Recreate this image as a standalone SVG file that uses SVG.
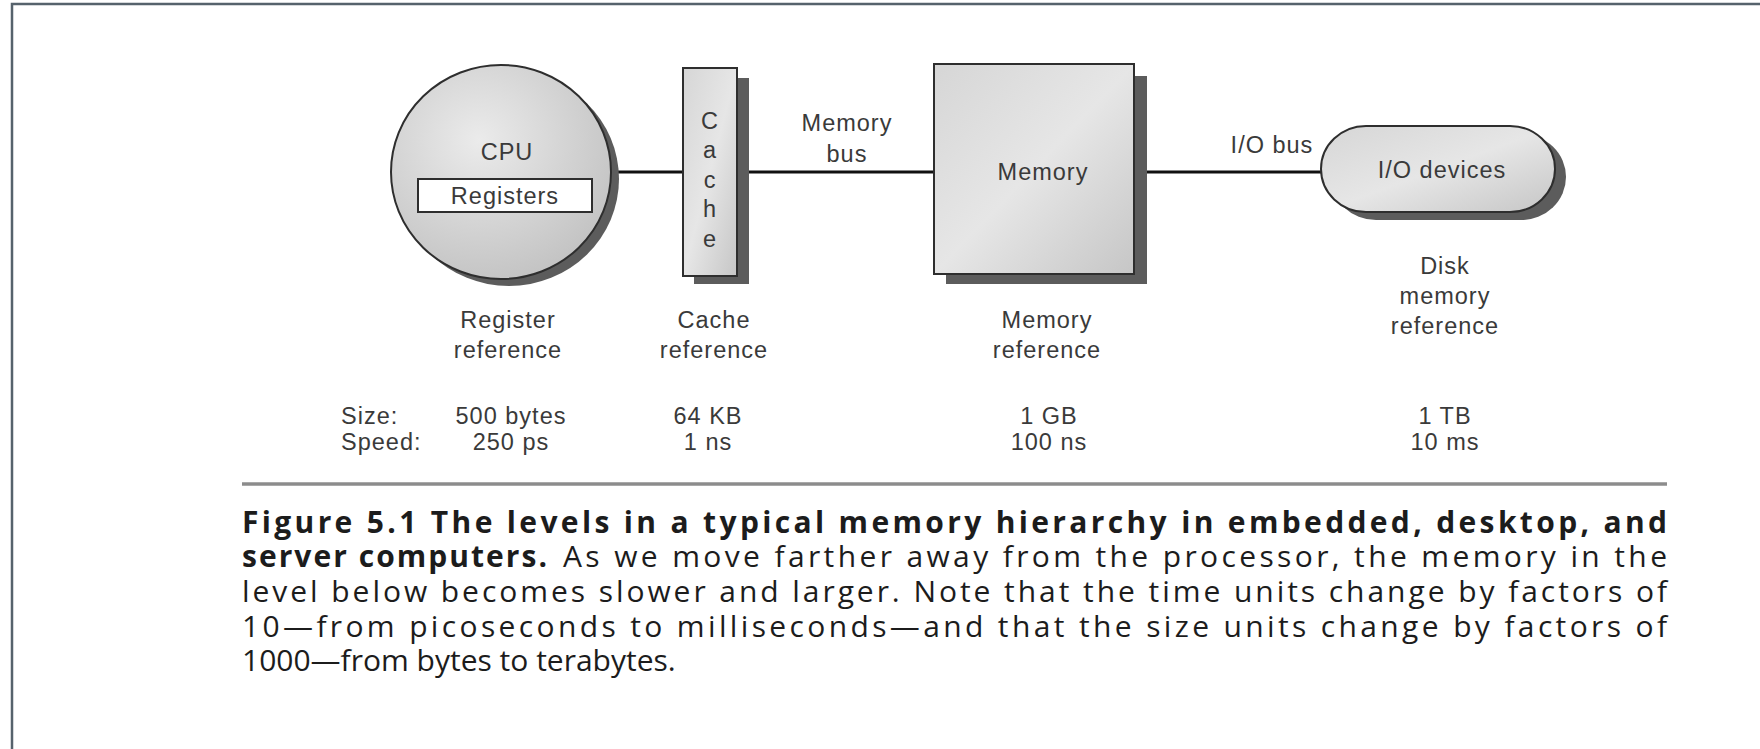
<svg xmlns="http://www.w3.org/2000/svg" width="1760" height="749" viewBox="0 0 1760 749">
<style>
.lbl{font-family:"Liberation Sans",Arial,sans-serif;font-size:23.5px;fill:#3a3a3a;letter-spacing:1px}
.mid{text-anchor:middle}
.cap{font-family:"Open Sans","Noto Sans",sans-serif;font-size:30px;fill:#1c1c1c}
.b{font-weight:700}
.shadow{fill:#5c5c5c}
.edge{stroke:#2e2e2e;stroke-width:2}
.conn{stroke:#111;stroke-width:3;fill:none}
</style>
<defs>
<radialGradient id="gc" cx="0.4" cy="0.35" r="0.7">
<stop offset="0" stop-color="#ebebeb"/>
<stop offset="1" stop-color="#c2c2c2"/>
</radialGradient>
<linearGradient id="gr" x1="0" y1="0" x2="1" y2="1">
<stop offset="0" stop-color="#d6d6d6"/>
<stop offset="0.5" stop-color="#e6e6e6"/>
<stop offset="1" stop-color="#c6c6c6"/>
</linearGradient>
</defs>
<rect width="1760" height="749" fill="#fff"/>
<path d="M12,749 V4 H1760" fill="none" stroke="#56626c" stroke-width="2.5"/>

<g id="connectors">
<line class="conn" x1="615" y1="172" x2="683" y2="172"/>
<line class="conn" x1="737" y1="172" x2="934" y2="172"/>
<line class="conn" x1="1134" y1="172" x2="1323" y2="172"/>
</g>

<g id="cpu">
<ellipse class="shadow" cx="509" cy="179" rx="110" ry="107"/>
<ellipse cx="501" cy="172" rx="110" ry="107" fill="url(#gc)" class="edge"/>
<text class="lbl mid" x="507" y="160">CPU</text>
<rect x="418" y="179" width="174" height="33" fill="#fff" class="edge"/>
<text class="lbl mid" x="505" y="204">Registers</text>
</g>

<g id="cache">
<rect class="shadow" x="694" y="78" width="55" height="206"/>
<rect x="683" y="68" width="54" height="208" fill="url(#gr)" class="edge"/>
<text class="lbl mid" x="710" y="129">C</text>
<text class="lbl mid" x="710" y="158">a</text>
<text class="lbl mid" x="710" y="188">c</text>
<text class="lbl mid" x="710" y="217">h</text>
<text class="lbl mid" x="710" y="247">e</text>
</g>

<g id="memory-bus-label">
<text class="lbl mid" x="847" y="131">Memory</text>
<text class="lbl mid" x="847" y="162">bus</text>
</g>

<g id="memory">
<rect class="shadow" x="946" y="76" width="201" height="208"/>
<rect x="934" y="64" width="200" height="210" fill="url(#gr)" class="edge"/>
<text class="lbl mid" x="1043" y="180">Memory</text>
</g>

<g id="io-bus-label">
<text class="lbl mid" x="1272" y="153">I/O bus</text>
</g>

<g id="io-devices">
<rect class="shadow" x="1331" y="134" width="235" height="86" rx="45" ry="43"/>
<rect x="1321" y="126" width="234" height="86" rx="45" ry="43" fill="url(#gr)" class="edge"/>
<text class="lbl mid" x="1442" y="178">I/O devices</text>
</g>

<g id="levels">
<text class="lbl mid" x="508" y="328">Register</text>
<text class="lbl mid" x="508" y="358">reference</text>
<text class="lbl mid" x="714" y="328">Cache</text>
<text class="lbl mid" x="714" y="358">reference</text>
<text class="lbl mid" x="1047" y="328">Memory</text>
<text class="lbl mid" x="1047" y="358">reference</text>
<text class="lbl mid" x="1445" y="274">Disk</text>
<text class="lbl mid" x="1445" y="304">memory</text>
<text class="lbl mid" x="1445" y="334">reference</text>
</g>

<g id="specs">
<text class="lbl" x="341" y="424">Size:</text>
<text class="lbl" x="341" y="450">Speed:</text>
<text class="lbl mid" x="511" y="424">500 bytes</text>
<text class="lbl mid" x="511" y="450">250 ps</text>
<text class="lbl mid" x="708" y="424">64 KB</text>
<text class="lbl mid" x="708" y="450">1 ns</text>
<text class="lbl mid" x="1049" y="424">1 GB</text>
<text class="lbl mid" x="1049" y="450">100 ns</text>
<text class="lbl mid" x="1445" y="424">1 TB</text>
<text class="lbl mid" x="1445" y="450">10 ms</text>
</g>

<line x1="242" y1="484" x2="1667" y2="484" stroke="#8c8c8c" stroke-width="3.5"/>

<g id="caption">
<text class="cap b" x="242" y="533" textLength="1425" lengthAdjust="spacing">Figure 5.1 The levels in a typical memory hierarchy in embedded, desktop, and</text>
<text class="cap b" x="242" y="567" textLength="305" lengthAdjust="spacing">server computers.</text>
<text class="cap" x="563" y="567" textLength="1104" lengthAdjust="spacing">As we move farther away from the processor, the memory in the</text>
<text class="cap" x="242" y="602" textLength="1425" lengthAdjust="spacing">level below becomes slower and larger. Note that the time units change by factors of</text>
<text class="cap" x="242" y="637" textLength="1425" lengthAdjust="spacing">10—from picoseconds to milliseconds—and that the size units change by factors of</text>
<text class="cap" x="242" y="671">1000—from bytes to terabytes.</text>
</g>
</svg>
